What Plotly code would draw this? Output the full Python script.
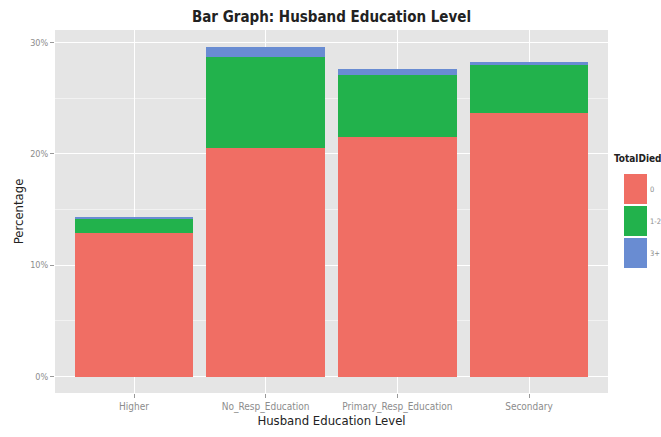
import plotly.graph_objects as go

categories = ["Higher", "No_Resp_Education", "Primary_Resp_Education", "Secondary"]
series_names = ["0", "1-2", "3+"]
vals_0 = [12.9, 20.5, 21.5, 23.7]
vals_12 = [1.25, 8.25, 5.55, 4.3]
vals_3p = [0.2, 0.9, 0.55, 0.27]
y_tickvals = [0, 10, 20, 30]
y_ticklabels = ["0%", "10%", "20%", "30%"]
legend_title = "TotalDied"
colors = ["#F06E64", "#22B24C", "#698CD2"]

FONT = "Liberation Sans Narrow, DejaVu Sans Condensed, Roboto Condensed, Arial Narrow, sans-serif"

fig = go.Figure()
for name, vals, col in zip(series_names, [vals_0, vals_12, vals_3p], colors):
    fig.add_trace(go.Bar(x=categories, y=vals, name=name, marker_color=col,
                         marker_line_width=0, width=0.9, showlegend=False))

totals = [a + b + c for a, b, c in zip(vals_0, vals_12, vals_3p)]
ymax = max(totals)
pad = 0.05 * ymax

W, H = 661, 437
pl, pr, pt, pb = 55, 53, 30, 44
pw, ph = W - pl - pr, H - pt - pb

fig.update_layout(
    width=W, height=H,
    margin=dict(l=pl, r=pr, t=pt, b=pb, autoexpand=False),
    paper_bgcolor="white", plot_bgcolor="#E5E5E5",
    barmode="stack", bargap=0.1,
    font=dict(family=FONT, color="#333333"),
    title=dict(text="<b>Bar Graph: Husband Education Level</b>", x=0.5, xanchor="center",
               xref="paper", y=0.962, yanchor="middle", font=dict(size=15, color="#222222")),
    xaxis=dict(range=[-0.6, 3.6], showgrid=True, gridcolor="white", gridwidth=1.1,
               automargin=False,
               ticks="outside", ticklen=4, tickcolor="#999999", tickwidth=1,
               tickfont=dict(size=10, color="#8C8C8C"), zeroline=False,
               title=dict(text="Husband Education Level", font=dict(size=13, color="#222222"), standoff=2)),
    yaxis=dict(range=[-pad, ymax + pad], tickvals=y_tickvals, ticktext=y_ticklabels,
               automargin=False,
               showgrid=True, gridcolor="white", gridwidth=1.1,
               minor=dict(dtick=5, tick0=5, showgrid=True, gridcolor="#F2F2F2", gridwidth=0.6),
               ticks="outside", ticklen=4, tickcolor="#999999", tickwidth=1,
               tickfont=dict(size=9, color="#8C8C8C"), zeroline=False,
               title=dict(text="Percentage", font=dict(size=13, color="#222222"), standoff=3)),
)

# ggplot-style legend drawn in paper coordinates
key_x0, key_x1 = 624, 647
key_top, key_h = 173, 32

def px_to_paper_x(x):
    return (x - pl) / pw

def px_to_paper_y(y):
    return 1 - (y - pt) / ph

fig.add_annotation(text="<b>" + legend_title + "</b>", xref="paper", yref="paper",
                   x=px_to_paper_x(612), y=px_to_paper_y(159), xanchor="left", yanchor="middle",
                   showarrow=False, font=dict(size=10, color="#222222"))
for i, (name, col) in enumerate(zip(series_names, colors)):
    y0 = key_top + i * key_h
    fig.add_shape(type="rect", xref="paper", yref="paper",
                  x0=px_to_paper_x(key_x0), x1=px_to_paper_x(key_x1),
                  y0=px_to_paper_y(y0 + 1), y1=px_to_paper_y(y0 + key_h - 1),
                  fillcolor=col, line=dict(width=0), layer="above")
    fig.add_annotation(text=name, xref="paper", yref="paper",
                       x=px_to_paper_x(648), y=px_to_paper_y(y0 + key_h / 2),
                       xanchor="left", yanchor="middle", showarrow=False,
                       font=dict(size=7.5, color="#8C8C8C"))

fig.write_html("out.html", config={"displayModeBar": False},
               post_script="document.body.style.margin='0';document.body.style.overflow='hidden';")
